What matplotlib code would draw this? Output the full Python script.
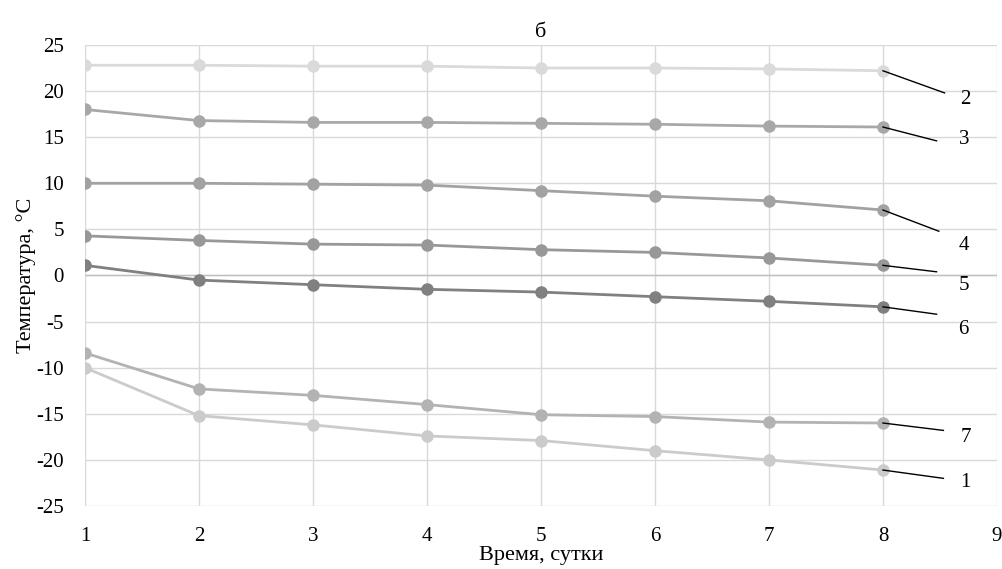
import matplotlib.pyplot as plt

plt.rcParams['font.family'] = ['Liberation Serif', 'DejaVu Serif']
plt.rcParams['axes.unicode_minus'] = False

days = [1, 2, 3, 4, 5, 6, 7, 8]

# температура по кривым 1-7
t1 = [-10.0, -15.2, -16.2, -17.4, -17.9, -19.0, -20.0, -21.1]
t2 = [22.8, 22.8, 22.7, 22.7, 22.5, 22.5, 22.4, 22.2]
t3 = [18.0, 16.8, 16.6, 16.6, 16.5, 16.4, 16.2, 16.1]
t4 = [10.0, 10.0, 9.9, 9.8, 9.2, 8.6, 8.1, 7.1]
t5 = [4.3, 3.8, 3.4, 3.3, 2.8, 2.5, 1.9, 1.1]
t6 = [1.1, -0.5, -1.0, -1.5, -1.8, -2.3, -2.8, -3.4]
t7 = [-8.4, -12.3, -13.0, -14.0, -15.1, -15.3, -15.9, -16.0]

curve_names = ['1', '2', '3', '4', '5', '6', '7']
curves = [t1, t2, t3, t4, t5, t6, t7]
colors = ['#cbcbcb', '#dadada', '#a8a8a8', '#a2a2a2', '#989898', '#808080', '#b3b3b3']

# концы выносных линий и положения подписей
leader_end = [(8.53, -22.0), (8.54, 19.8), (8.47, 14.6), (8.49, 4.8),
              (8.47, 0.4), (8.47, -4.2), (8.53, -16.8)]
label_pos = [(8.68, -22.5), (8.68, 19.1), (8.67, 14.7), (8.66, 3.3),
             (8.66, -1.1), (8.66, -5.9), (8.68, -17.6)]

fig = plt.figure(figsize=(10.03, 5.69), dpi=100)
ax = fig.add_axes([0.0847, 0.1107, 0.9093, 0.8103])

draw_order = [1, 2, 3, 4, 5, 6, 0]
for i in draw_order:
    ax.plot(days, curves[i], color=colors[i], lw=2.0, marker='o', ms=8, zorder=3)

for i in range(7):
    x0, y0 = days[-1], curves[i][-1]
    ax.plot([x0, leader_end[i][0]], [y0, leader_end[i][1]], color='black', lw=1.0, zorder=4)
    ax.text(label_pos[i][0], label_pos[i][1], curve_names[i], fontsize=15,
            ha='left', va='center')

ax.set_xlim(1, 9)
ax.set_ylim(-25, 25)
ax.set_xticks(range(1, 10))
ax.set_yticks(range(-25, 26, 5))
ax.grid(True, color='#d9d9d9', lw=1.0)
ax.set_axisbelow(True)
ax.axhline(0, color='#bfbfbf', lw=1.0, zorder=1)
for s in ax.spines.values():
    s.set_visible(False)
ax.tick_params(length=0, labelsize=15)
ax.tick_params(axis='x', pad=15)
ax.tick_params(axis='y', pad=15)

ax.set_title('б', fontsize=16, pad=6)
ax.set_xlabel('Время, сутки', fontsize=16, labelpad=0)
ax.set_ylabel('Температура, °С', fontsize=16, labelpad=0)

fig.savefig('out.png', dpi=100)
